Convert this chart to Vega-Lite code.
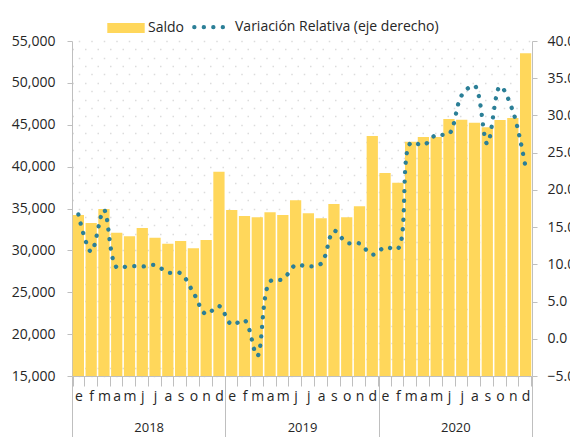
{
  "$schema": "https://vega.github.io/schema/vega-lite/v6.json",
  "width": 460,
  "height": 335,
  "autosize": {"type": "none"},
  "padding": {"left": 72, "top": 41, "right": 38, "bottom": 61},
  "background": "white",
  "config": {
    "view": {"stroke": null},
    "font": "Open Sans",
    "axis": {"labelFont": "Open Sans", "labelColor": "#262626", "domainColor": "#bfbfbf", "tickColor": "#bfbfbf", "grid": false, "title": null},
    "legend": {"labelFont": "Open Sans"}
  },
  "data": {"values": [
    {"i": 0, "year": "2018", "saldo": 34220, "var": 16.7},
    {"i": 1, "year": "2018", "saldo": 33270, "var": 11.7},
    {"i": 2, "year": "2018", "saldo": 34940, "var": 17.3},
    {"i": 3, "year": "2018", "saldo": 32110, "var": 9.6},
    {"i": 4, "year": "2018", "saldo": 31680, "var": 9.8},
    {"i": 5, "year": "2018", "saldo": 32670, "var": 9.7},
    {"i": 6, "year": "2018", "saldo": 31510, "var": 9.9},
    {"i": 7, "year": "2018", "saldo": 30800, "var": 8.9},
    {"i": 8, "year": "2018", "saldo": 31120, "var": 8.8},
    {"i": 9, "year": "2018", "saldo": 30250, "var": 6.2},
    {"i": 10, "year": "2018", "saldo": 31240, "var": 3.3},
    {"i": 11, "year": "2018", "saldo": 39400, "var": 4.4},
    {"i": 12, "year": "2019", "saldo": 34820, "var": 1.9},
    {"i": 13, "year": "2019", "saldo": 34100, "var": 2.5},
    {"i": 14, "year": "2019", "saldo": 33950, "var": -2.3},
    {"i": 15, "year": "2019", "saldo": 34550, "var": 7.7},
    {"i": 16, "year": "2019", "saldo": 34220, "var": 8.0},
    {"i": 17, "year": "2019", "saldo": 35980, "var": 9.9},
    {"i": 18, "year": "2019", "saldo": 34420, "var": 9.7},
    {"i": 19, "year": "2019", "saldo": 33850, "var": 10.1},
    {"i": 20, "year": "2019", "saldo": 35540, "var": 14.5},
    {"i": 21, "year": "2019", "saldo": 33950, "var": 12.9},
    {"i": 22, "year": "2019", "saldo": 35260, "var": 12.8},
    {"i": 23, "year": "2019", "saldo": 43660, "var": 11.3},
    {"i": 24, "year": "2020", "saldo": 39240, "var": 12.3},
    {"i": 25, "year": "2020", "saldo": 38080, "var": 12.1},
    {"i": 26, "year": "2020", "saldo": 42980, "var": 26.3},
    {"i": 27, "year": "2020", "saldo": 43540, "var": 26.0},
    {"i": 28, "year": "2020", "saldo": 43540, "var": 27.4},
    {"i": 29, "year": "2020", "saldo": 45690, "var": 27.5},
    {"i": 30, "year": "2020", "saldo": 45600, "var": 32.7},
    {"i": 31, "year": "2020", "saldo": 45250, "var": 34.0},
    {"i": 32, "year": "2020", "saldo": 44700, "var": 26.2},
    {"i": 33, "year": "2020", "saldo": 45570, "var": 33.9},
    {"i": 34, "year": "2020", "saldo": 45810, "var": 30.6},
    {"i": 35, "year": "2020", "saldo": 53530, "var": 23.0}
  ]},
  "layer": [
    {
      "mark": {"type": "bar", "opacity": 0},
      "encoding": {
        "x": {"field": "year", "type": "nominal",
          "scale": {"paddingInner": 0, "paddingOuter": 0},
          "axis": {"orient": "bottom", "domain": false, "labelAngle": 0, "tickBand": "extent", "tickSize": 61, "labelPadding": -16, "labelFontSize": 13}},
        "y": {"field": "saldo", "type": "quantitative", "scale": {"domain": [15000, 55000], "zero": false, "nice": false},
          "axis": {"orient": "left", "grid": true, "domain": false, "ticks": false, "labels": false, "tickCount": 40,
            "gridColor": "#dcdcdc", "gridWidth": 1.5, "gridDash": [1.5, 11],
            "gridDashOffset": {"condition": {"test": "datum.value % 2000 === 0", "value": 0}, "value": 6.25}}}
      }
    },
    {
      "mark": {"type": "bar", "clip": true},
      "encoding": {
        "x": {"field": "i", "type": "ordinal",
          "scale": {"paddingInner": 0.12, "paddingOuter": 0.06},
          "axis": {"orient": "bottom", "labelExpr": "['e','f','m','a','m','j','j','a','s','o','n','d'][datum.value % 12]", "labelAngle": 0, "tickBand": "extent", "tickSize": 10, "labelPadding": 3, "labelFontSize": 14}},
        "y": {"field": "saldo", "type": "quantitative",
          "scale": {"domain": [15000, 55000], "zero": false, "nice": false},
          "axis": {"orient": "left", "values": [15000, 20000, 25000, 30000, 35000, 40000, 45000, 50000, 55000], "format": ",.0f", "tickSize": 5, "labelPadding": 12, "labelFontSize": 14}},
        "color": {"datum": "Saldo", "type": "nominal",
          "scale": {"domain": ["Saldo", "Variación Relativa (eje derecho)"], "range": ["#FFD75B", "#2B7F97"]},
          "legend": {"title": null, "orient": "none", "legendX": 47, "legendY": -21, "direction": "horizontal",
            "symbolSize": 1400, "labelFontSize": 14, "labelColor": "#262626", "labelOffset": 15, "columnPadding": 1, "labelLimit": 400,
            "encode": {"symbols": {"update": {
              "shape": {"signal": "datum.value === 'Saldo' ? 'M-1,-0.27H1V0.27H-1Z' : 'M-1,0H1'"},
              "fill": {"signal": "datum.value === 'Saldo' ? '#FFD75B' : 'transparent'"},
              "stroke": {"signal": "datum.value === 'Saldo' ? 'transparent' : '#2B7F97'"},
              "strokeWidth": {"signal": "datum.value === 'Saldo' ? 0 : 4.3"},
              "strokeDash": {"signal": "datum.value === 'Saldo' ? [1, 0] : [0.1, 9.4]"},
              "strokeCap": {"value": "round"},
              "opacity": {"value": 1}
            }}}}}
      }
    },
    {
      "mark": {"type": "line", "interpolate": "catmull-rom", "strokeWidth": 4.3, "strokeDash": [0.1, 9.4], "strokeCap": "round"},
      "encoding": {
        "x": {"field": "i", "type": "ordinal", "bandPosition": 0.5,
          "scale": {"type": "band", "paddingInner": 0.12, "paddingOuter": 0.06}, "axis": null},
        "y": {"field": "var", "type": "quantitative",
          "scale": {"domain": [-5, 40], "nice": false, "zero": false},
          "axis": {"orient": "right", "values": [-5, 0, 5, 10, 15, 20, 25, 30, 35, 40], "format": ".1f", "tickSize": 5, "labelPadding": 10, "labelFontSize": 14}},
        "color": {"datum": "Variación Relativa (eje derecho)", "type": "nominal"}
      }
    }
  ],
  "resolve": {"scale": {"x": "independent", "y": "independent"}}
}
